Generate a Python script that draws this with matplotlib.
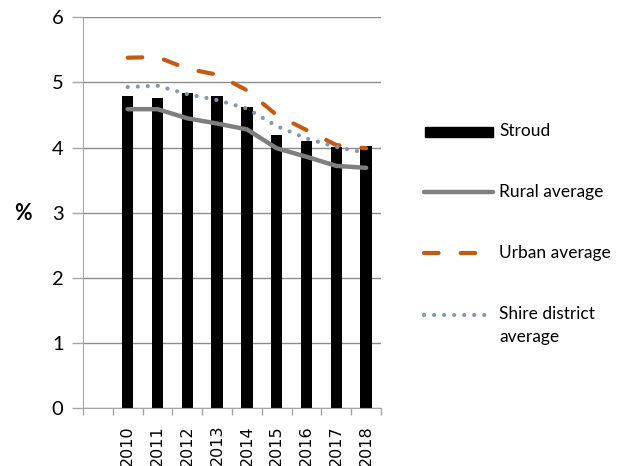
import matplotlib.pyplot as plt
from matplotlib.lines import Line2D
from matplotlib.patches import Rectangle

# data
years = ['', '2010', '2011', '2012', '2013', '2014', '2015', '2016', '2017', '2018']
stroud = [None, 4.80, 4.76, 4.84, 4.80, 4.62, 4.19, 4.10, 4.01, 4.03]
rural = [None, 4.59, 4.59, 4.45, 4.37, 4.28, 3.99, 3.86, 3.72, 3.69]
urban = [None, 5.38, 5.39, 5.21, 5.12, 4.88, 4.50, 4.27, 4.04, 3.99]
shire = [None, 4.93, 4.95, 4.82, 4.73, 4.60, 4.33, 4.14, 4.01, 3.92]

grey_axis = '#a6a6a6'
grey_grid = '#8c8c8c'
col_rural = '#7f7f7f'
col_urban = '#c55a11'
col_shire = '#8497b0'

fig = plt.figure(figsize=(6.26, 4.66), dpi=100)
ax = fig.add_axes([83 / 626, 1 - 408.3 / 466, 298 / 626, (408.3 - 17.3) / 466])

x = list(range(len(years)))
xs = x[1:]

ax.bar(xs, stroud[1:], width=0.38, color='black', zorder=2)
ax.plot(xs, rural[1:], color=col_rural, lw=3.2, solid_capstyle='round',
        solid_joinstyle='round', zorder=3)
ax.plot(xs, urban[1:], color=col_urban, lw=3, dashes=(3.5, 5.3),
        dash_capstyle='round', zorder=3)
ax.plot(xs, shire[1:], color=col_shire, lw=3, dashes=(0.01, 2.4),
        dash_capstyle='round', zorder=3)

ax.set_xlim(-0.5, len(years) - 0.5)
ax.set_ylim(0, 6)
ax.set_yticks(range(0, 7))
ax.yaxis.grid(True, color=grey_grid, lw=1)
ax.xaxis.grid(False)
ax.set_axisbelow(True)

# category ticks sit on the boundaries, labels in the middle
ax.set_xticks([i - 0.5 for i in range(len(years) + 1)])
ax.set_xticklabels([])
ax.set_xticks(x, minor=True)
ax.set_xticklabels(years, minor=True, rotation=90, fontsize=11.5,
                   family='DejaVu Sans')
ax.tick_params(axis='x', which='major', length=5, color=grey_axis, width=1)
ax.tick_params(axis='x', which='minor', length=0, pad=12)
ax.tick_params(axis='y', length=8, color=grey_axis, width=1, labelsize=14.5,
               pad=6)
for lbl in ax.get_yticklabels():
    lbl.set_family('Lato')

ax.spines['top'].set_visible(False)
ax.spines['right'].set_visible(False)
ax.spines['left'].set_color(grey_axis)
ax.spines['bottom'].set_color(grey_axis)

fig.text(23 / 626, 1 - 213 / 466, '%', fontsize=15.5, fontweight='bold',
         family='Lato', ha='center', va='center')

# legend drawn by hand to keep the handles level with the first text line
def fy(py):
    return 1 - py / 466

fig.add_artist(Rectangle((425 / 626, fy(136.5)), 68 / 626, 9 / 466,
                         transform=fig.transFigure, color='black'))
fig.add_artist(Line2D([424 / 626, 493 / 626], [fy(192), fy(192)], color=col_rural,
                      lw=3.2, solid_capstyle='round', transform=fig.transFigure))
fig.add_artist(Line2D([424 / 626, 493 / 626], [fy(253.5), fy(253.5)], color=col_urban,
                      lw=3, dashes=(3.5, 5.3), dash_capstyle='round',
                      transform=fig.transFigure))
fig.add_artist(Line2D([424 / 626, 493 / 626], [fy(315), fy(315)], color=col_shire,
                      lw=3, dashes=(0.01, 2.4), dash_capstyle='round',
                      transform=fig.transFigure))

labels = ['Stroud', 'Rural average', 'Urban average', 'Shire district\naverage']
label_y = [131, 192, 253, 306]
for lab, py in zip(labels, label_y):
    fig.text(499 / 626, fy(py), lab, fontsize=12.5, family='Lato', ha='left',
             va='center' if '\n' not in lab else 'top', linespacing=1.55)

fig.savefig('out.png', dpi=100)
